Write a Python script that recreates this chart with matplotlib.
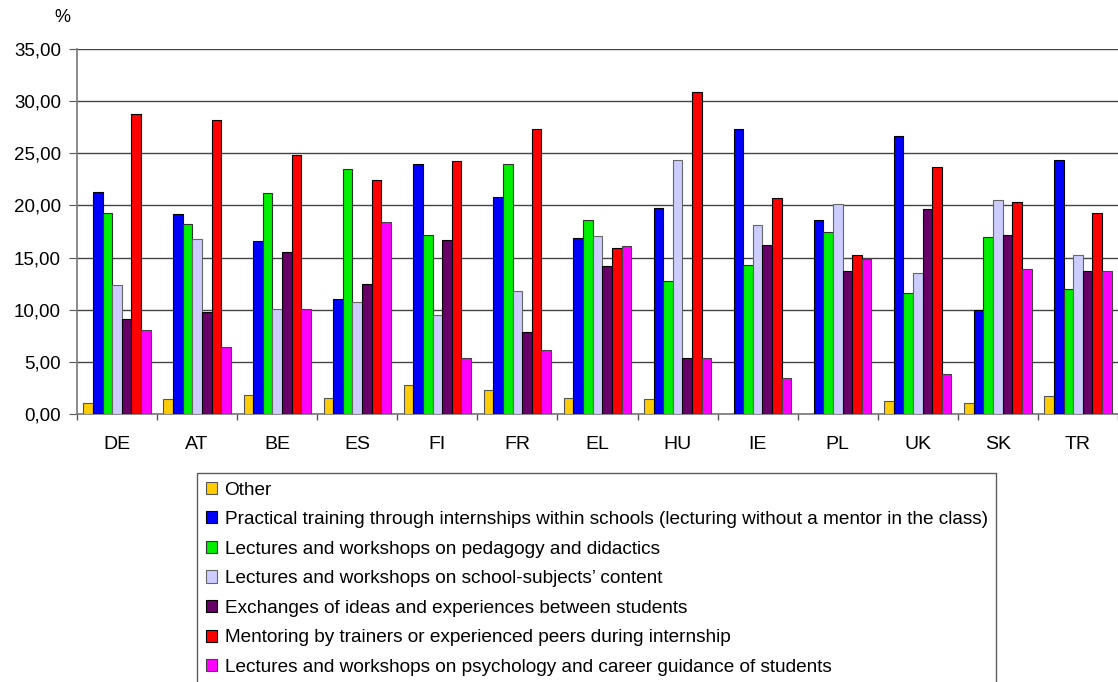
import numpy as np
import matplotlib
matplotlib.use("Agg")
import matplotlib.pyplot as plt
from matplotlib.ticker import FuncFormatter, MultipleLocator

plt.rcParams["font.family"] = ["Liberation Sans", "DejaVu Sans"]

countries = ["DE", "AT", "BE", "ES", "FI", "FR", "EL", "HU", "IE", "PL", "UK", "SK", "TR"]

series_names = [
    "Other",
    "Practical training through internships within schools (lecturing without a mentor in the class)",
    "Lectures and workshops on pedagogy and didactics",
    "Lectures and workshops on school-subjects\u2019 content",
    "Exchanges of ideas and experiences between students",
    "Mentoring by trainers or experienced peers during internship",
    "Lectures and workshops on psychology and career guidance of students",
]

other       = [1.1, 1.4, 1.8, 1.5, 2.8, 2.3, 1.5, 1.4, 0.0, 0.0, 1.2, 1.1, 1.7]
practical   = [21.3, 19.2, 16.6, 11.0, 24.0, 20.8, 16.9, 19.8, 27.3, 18.6, 26.7, 10.0, 24.4]
pedagogy    = [19.3, 18.2, 21.2, 23.5, 17.2, 24.0, 18.6, 12.8, 14.3, 17.5, 11.6, 17.0, 12.0]
subjects    = [12.4, 16.8, 10.1, 10.7, 9.5, 11.8, 17.1, 24.4, 18.1, 20.1, 13.5, 20.5, 15.2]
exchanges   = [9.1, 9.8, 15.5, 12.5, 16.7, 7.9, 14.2, 5.4, 16.2, 13.7, 19.7, 17.2, 13.7]
mentoring   = [28.8, 28.2, 24.8, 22.4, 24.3, 27.3, 15.9, 30.9, 20.7, 15.2, 23.7, 20.3, 19.3]
psychology  = [8.1, 6.4, 10.1, 18.4, 5.4, 6.1, 16.1, 5.4, 3.5, 14.9, 3.8, 13.9, 13.7]

all_series = [other, practical, pedagogy, subjects, exchanges, mentoring, psychology]
colors = ["#FFCC00", "#0000FF", "#00EE00", "#CCCCFF", "#660066", "#FF0000", "#FF00FF"]
edges = ["#555555", "#000000", "#333333", "#666666", "#000000", "#000000", "#444444"]

fig = plt.figure(figsize=(11.18, 6.82), dpi=100)
ax = fig.add_axes([77 / 1118, 268 / 682, 1041 / 1118, 365 / 682])

x = np.arange(len(countries))
width = 0.12
for i, (vals, col, ec, name) in enumerate(zip(all_series, colors, edges, series_names)):
    offs = (i - 3) * width
    vals = np.array(vals)
    ax.bar(x + offs, np.where(vals > 0, vals, np.nan), width, color=col,
           edgecolor=ec, linewidth=0.8, label=name, zorder=3)

ax.set_xlim(-0.5, len(countries) - 0.5)
ax.set_ylim(0, 35)
ax.yaxis.set_major_locator(MultipleLocator(5))
ax.yaxis.set_major_formatter(FuncFormatter(lambda v, p: f"{v:.2f}".replace(".", ",")))
ax.grid(axis="y", color="#444444", linewidth=1.0, zorder=0)

ax.set_xticks(x)
ax.set_xticklabels(countries, fontsize=14)
ax.set_xticks(np.arange(-0.5, len(countries), 1), minor=True)
ax.tick_params(axis="x", which="major", length=0, pad=16)
ax.tick_params(axis="x", which="minor", length=4, color="#555555", width=1)
ax.tick_params(axis="y", labelsize=13.5, length=5.5, color="#555555", pad=6)

for s in ["top", "right"]:
    ax.spines[s].set_visible(False)
for s in ["left", "bottom"]:
    ax.spines[s].set_color("#777777")
    ax.spines[s].set_linewidth(1.2)

fig.text(54 / 1118, 1 - 17 / 682, "%", fontsize=13, va="center")

leg = fig.legend(loc="upper left", bbox_to_anchor=(197 / 1118, 1 - 473 / 682),
                 fontsize=13.7, frameon=True, fancybox=False, edgecolor="#333333",
                 handlelength=0.6, handleheight=0.6, handletextpad=0.4,
                 labelspacing=0.66, borderpad=0.45, borderaxespad=0)
leg.get_frame().set_linewidth(1.0)

fig.savefig("out.png", dpi=100)
